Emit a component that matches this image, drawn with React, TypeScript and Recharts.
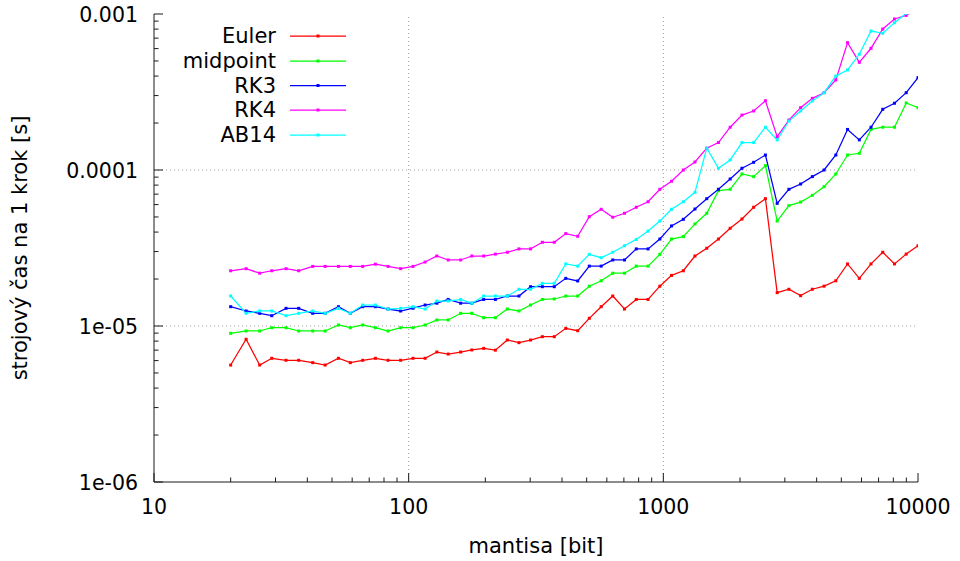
import React from 'react';
import { LineChart, Line, XAxis, YAxis, ReferenceLine, Customized } from 'recharts';

const mantissa = [
  20, 23, 26, 29, 33, 37, 42, 47, 53, 59, 66, 74, 83, 93, 104, 116,
  129, 143, 160, 177, 197, 219, 244, 271, 301, 335, 373, 414, 461, 512,
  570, 633, 704, 783, 871, 969, 1077, 1198, 1331, 1481, 1646, 1830, 2036,
  2263, 2517, 2799, 3112, 3460, 3847, 4278, 4757, 5289, 5882, 6539, 7271,
  8085, 8990, 10000,
];

const euler = [
  5.62e-6, 8.22e-6, 5.62e-6, 6.21e-6, 6.03e-6, 6.03e-6, 5.82e-6, 5.62e-6, 6.21e-6, 5.82e-6,
  6.03e-6, 6.21e-6, 6.03e-6, 6.03e-6, 6.21e-6, 6.21e-6, 6.81e-6, 6.61e-6, 6.81e-6, 7.02e-6,
  7.19e-6, 7.0e-6, 8.13e-6, 7.82e-6, 8.13e-6, 8.54e-6, 8.54e-6, 9.66e-6, 9.33e-6, 1.12e-5,
  1.33e-5, 1.557e-5, 1.285e-5, 1.48e-5, 1.48e-5, 1.8e-5, 2.11e-5, 2.26e-5, 2.81e-5, 3.15e-5,
  3.61e-5, 4.23e-5, 4.85e-5, 5.77e-5, 6.55e-5, 1.636e-5, 1.72e-5, 1.565e-5, 1.72e-5, 1.8e-5,
  1.95e-5, 2.5e-5, 2.02e-5, 2.5e-5, 2.97e-5, 2.5e-5, 2.89e-5, 3.27e-5,
];

const midpoint = [
  8.98e-6, 9.29e-6, 9.29e-6, 9.75e-6, 9.75e-6, 9.29e-6, 9.29e-6, 9.29e-6, 1.015e-5, 9.75e-6,
  1.015e-5, 9.75e-6, 9.29e-6, 9.75e-6, 9.75e-6, 1.015e-5, 1.093e-5, 1.093e-5, 1.206e-5, 1.206e-5,
  1.13e-5, 1.13e-5, 1.285e-5, 1.248e-5, 1.363e-5, 1.48e-5, 1.49e-5, 1.557e-5, 1.557e-5, 1.8e-5,
  1.95e-5, 2.18e-5, 2.18e-5, 2.42e-5, 2.42e-5, 2.88e-5, 3.61e-5, 3.74e-5, 4.51e-5, 5.28e-5,
  7.37e-5, 7.52e-5, 9.43e-5, 9.07e-5, 1.066e-4, 4.71e-5, 5.91e-5, 6.23e-5, 6.88e-5, 7.82e-5,
  9.43e-5, 1.248e-4, 1.28e-4, 1.82e-4, 1.88e-4, 1.88e-4, 2.69e-4, 2.51e-4,
];

const rk3 = [
  1.33e-5, 1.248e-5, 1.206e-5, 1.164e-5, 1.298e-5, 1.298e-5, 1.206e-5, 1.206e-5, 1.33e-5, 1.206e-5,
  1.33e-5, 1.33e-5, 1.285e-5, 1.248e-5, 1.3e-5, 1.363e-5, 1.4e-5, 1.48e-5, 1.4e-5, 1.4e-5,
  1.48e-5, 1.48e-5, 1.557e-5, 1.557e-5, 1.786e-5, 1.786e-5, 1.786e-5, 2.02e-5, 1.944e-5, 2.42e-5,
  2.42e-5, 2.65e-5, 2.65e-5, 3.12e-5, 3.12e-5, 3.61e-5, 4.38e-5, 4.83e-5, 5.62e-5, 6.55e-5,
  7.52e-5, 8.76e-5, 1.026e-4, 1.12e-4, 1.248e-4, 6.11e-5, 7.52e-5, 8.13e-5, 9.07e-5, 1.0e-4,
  1.248e-4, 1.82e-4, 1.56e-4, 1.88e-4, 2.45e-4, 2.68e-4, 3.13e-4, 3.91e-4,
];

const rk4 = [
  2.26e-5, 2.33e-5, 2.18e-5, 2.26e-5, 2.33e-5, 2.26e-5, 2.41e-5, 2.41e-5, 2.41e-5, 2.41e-5,
  2.41e-5, 2.49e-5, 2.41e-5, 2.33e-5, 2.41e-5, 2.57e-5, 2.81e-5, 2.65e-5, 2.65e-5, 2.81e-5,
  2.81e-5, 2.89e-5, 2.97e-5, 3.12e-5, 3.12e-5, 3.44e-5, 3.44e-5, 3.91e-5, 3.76e-5, 5.02e-5,
  5.6e-5, 4.98e-5, 5.28e-5, 5.77e-5, 6.26e-5, 7.52e-5, 8.47e-5, 1.0e-4, 1.125e-4, 1.38e-4,
  1.5e-4, 1.88e-4, 2.25e-4, 2.39e-4, 2.78e-4, 1.635e-4, 2.09e-4, 2.51e-4, 2.88e-4, 3.13e-4,
  3.78e-4, 6.55e-4, 4.9e-4, 6.03e-4, 8.01e-4, 9.29e-4, 9.8e-4, 1.1e-3,
];

const ab14 = [
  1.557e-5, 1.206e-5, 1.248e-5, 1.248e-5, 1.164e-5, 1.206e-5, 1.248e-5, 1.206e-5, 1.298e-5, 1.206e-5,
  1.363e-5, 1.363e-5, 1.285e-5, 1.298e-5, 1.33e-5, 1.285e-5, 1.446e-5, 1.446e-5, 1.48e-5, 1.4e-5,
  1.557e-5, 1.557e-5, 1.557e-5, 1.72e-5, 1.72e-5, 1.877e-5, 1.877e-5, 2.5e-5, 2.42e-5, 2.88e-5,
  2.74e-5, 2.97e-5, 3.27e-5, 3.59e-5, 4.06e-5, 4.71e-5, 5.6e-5, 6.26e-5, 7.19e-5, 1.38e-4,
  1.026e-4, 1.16e-4, 1.5e-4, 1.5e-4, 1.88e-4, 1.56e-4, 2.06e-4, 2.39e-4, 2.77e-4, 3.13e-4,
  4.0e-4, 4.38e-4, 5.52e-4, 7.78e-4, 7.52e-4, 8.8e-4, 1.01e-3, 1.15e-3,
];

const seriesNames = ['Euler', 'midpoint', 'RK3', 'RK4', 'AB14'];
const seriesKeys = ['euler', 'midpoint', 'rk3', 'rk4', 'ab14'];
const seriesColors = ['#ff0000', '#00ff00', '#0000ff', '#ff00ff', '#00ffff'];

const xTicks = [
  10, 20, 30, 40, 50, 60, 70, 80, 90,
  100, 200, 300, 400, 500, 600, 700, 800, 900,
  1000, 2000, 3000, 4000, 5000, 6000, 7000, 8000, 9000, 10000,
];
const xMajor = [10, 100, 1000, 10000];
const xMajorLabels = ['10', '100', '1000', '10000'];

const yTicks = [
  1e-6, 2e-6, 3e-6, 4e-6, 5e-6, 6e-6, 7e-6, 8e-6, 9e-6,
  1e-5, 2e-5, 3e-5, 4e-5, 5e-5, 6e-5, 7e-5, 8e-5, 9e-5,
  1e-4, 2e-4, 3e-4, 4e-4, 5e-4, 6e-4, 7e-4, 8e-4, 9e-4, 1e-3,
];
const yMajor = [1e-6, 1e-5, 1e-4, 1e-3];
const yMajorLabels = ['1e-06', '1e-05', '0.0001', '0.001'];
const xGrid = [100, 1000];
const yGrid = [1e-5, 1e-4];

const data = mantissa.map((m, i) => ({
  m,
  euler: euler[i],
  midpoint: midpoint[i],
  rk3: rk3[i],
  rk4: rk4[i],
  ab14: ab14[i],
}));

const FONT = "'DejaVu Sans', Verdana, sans-serif";
const FS_TICK = 20.5;
const FS = 21;
const AXIS = '#1a1a1a';
const MAJOR = 9;
const MINOR = 4.5;
const LW = 1.25;

function BottomTick(props: any) {
  const { x, y, payload } = props;
  const i = xMajor.indexOf(payload.value);
  const len = i >= 0 ? MAJOR : MINOR;
  return (
    <g>
      <line x1={x} x2={x} y1={y} y2={y - len} stroke={AXIS} strokeWidth={1} />
      {i >= 0 && (
        <text x={x} y={y + 25} textAnchor="middle" dominantBaseline="central" fontSize={FS_TICK} fontFamily={FONT} fill="#000">
          {xMajorLabels[i]}
        </text>
      )}
    </g>
  );
}

function TopTick(props: any) {
  const { x, y, payload } = props;
  const i = xMajor.indexOf(payload.value);
  const len = i >= 0 ? MAJOR : MINOR;
  return <line x1={x} x2={x} y1={y} y2={y + len} stroke={AXIS} strokeWidth={1} />;
}

function LeftTick(props: any) {
  const { x, y, payload } = props;
  const i = yMajor.indexOf(payload.value);
  const len = i >= 0 ? MAJOR : MINOR;
  return (
    <g>
      <line x1={x} x2={x + len} y1={y} y2={y} stroke={AXIS} strokeWidth={1} />
      {i >= 0 && (
        <text x={x - 16} y={y + 1} textAnchor="end" dominantBaseline="central" fontSize={FS_TICK} fontFamily={FONT} fill="#000">
          {yMajorLabels[i]}
        </text>
      )}
    </g>
  );
}

function RightTick(props: any) {
  const { x, y, payload } = props;
  const i = yMajor.indexOf(payload.value);
  const len = i >= 0 ? MAJOR : MINOR;
  return <line x1={x} x2={x - len} y1={y} y2={y} stroke={AXIS} strokeWidth={1} />;
}

function makeDot(color: string) {
  return (props: any) => {
    const { cx, cy, index } = props;
    if (cx == null || cy == null) return <g key={index} />;
    return <rect key={index} x={cx - 1.5} y={cy - 1.5} width={3} height={3} fill={color} />;
  };
}

function Overlay() {
  const rowY = [36, 61, 85.5, 110, 135];
  return (
    <g fontFamily={FONT} fontSize={FS} fill="#000">
      {seriesNames.map((n, i) => (
        <g key={n}>
          <text x={276} y={rowY[i]} textAnchor="end" dominantBaseline="central">
            {n}
          </text>
          <line x1={290} x2={346} y1={rowY[i]} y2={rowY[i]} stroke={seriesColors[i]} strokeWidth={LW} />
          <rect x={316.5} y={rowY[i] - 1.5} width={3} height={3} fill={seriesColors[i]} />
        </g>
      ))}
      <text x={536} y={546} textAnchor="middle" dominantBaseline="central">
        mantisa [bit]
      </text>
      <text
        x={20}
        y={248}
        textAnchor="middle"
        dominantBaseline="central"
        transform="rotate(-90 20 248)"
      >
        strojový čas na 1 krok [s]
      </text>
    </g>
  );
}

export default function App() {
  return (
    <div style={{ position: 'absolute', left: 0, top: 0, width: 960, height: 561, background: '#fff' }}>
      <LineChart
        width={960}
        height={561}
        data={data}
        margin={{ top: 14, right: 42, bottom: 0, left: 0 }}
        style={{ fontFamily: FONT }}
      >
        <XAxis
          xAxisId="b"
          dataKey="m"
          type="number"
          scale="log"
          domain={[10, 10000]}
          allowDataOverflow
          ticks={xTicks}
          interval={0}
          tickSize={0}
          tickMargin={0}
          tickLine={false}
          tick={<BottomTick />}
          height={79}
          axisLine={{ stroke: AXIS, strokeWidth: 1 }}
        />
        <XAxis
          xAxisId="t"
          orientation="top"
          dataKey="m"
          type="number"
          scale="log"
          domain={[10, 10000]}
          allowDataOverflow
          ticks={xTicks}
          interval={0}
          tickSize={0}
          tickMargin={0}
          tickLine={false}
          tick={<TopTick />}
          height={0}
          axisLine={{ stroke: AXIS, strokeWidth: 1 }}
        />
        <YAxis
          yAxisId="l"
          type="number"
          scale="log"
          domain={[1e-6, 1e-3]}
          allowDataOverflow
          ticks={yTicks}
          interval={0}
          tickSize={0}
          tickMargin={0}
          tickLine={false}
          tick={<LeftTick />}
          width={154}
          axisLine={{ stroke: AXIS, strokeWidth: 1 }}
        />
        <YAxis
          yAxisId="r"
          orientation="right"
          type="number"
          scale="log"
          domain={[1e-6, 1e-3]}
          allowDataOverflow
          ticks={yTicks}
          interval={0}
          tickSize={0}
          tickMargin={0}
          tickLine={false}
          tick={<RightTick />}
          width={0}
          axisLine={{ stroke: AXIS, strokeWidth: 1 }}
        />
        {xGrid.map((v) => (
          <ReferenceLine key={'gx' + v} x={v} xAxisId="b" yAxisId="l" stroke="#a0a0a0" strokeDasharray="1 3" strokeWidth={1} />
        ))}
        {yGrid.map((v) => (
          <ReferenceLine key={'gy' + v} y={v} xAxisId="b" yAxisId="l" stroke="#a0a0a0" strokeDasharray="1 3" strokeWidth={1} />
        ))}
        {seriesKeys.map((k, i) => (
          <Line
            key={k}
            xAxisId="b"
            yAxisId="l"
            dataKey={k}
            type="linear"
            stroke={seriesColors[i]}
            strokeWidth={LW}
            dot={makeDot(seriesColors[i])}
            activeDot={false}
            isAnimationActive={false}
          />
        ))}
        <Customized component={Overlay} />
      </LineChart>
    </div>
  );
}
